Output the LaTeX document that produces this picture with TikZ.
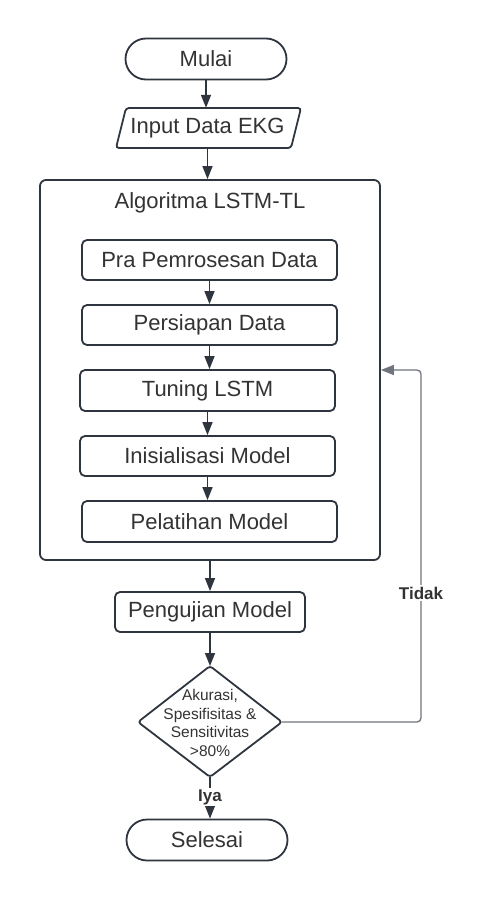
\documentclass[tikz,border=0pt]{standalone}
\usepackage{fontspec}
\setmainfont{Liberation Sans}
\usetikzlibrary{arrows.meta,calc}
\definecolor{ln}{HTML}{2F353E}
\definecolor{tx}{HTML}{333333}
\definecolor{lp}{HTML}{70747C}
\begin{document}
\begin{tikzpicture}[x=1pt,y=-1pt,
  mainfont/.style={font=\fontsize{22}{26}\selectfont},
  stepbox/.style={draw=ln,line width=1.8pt,rounded corners=5pt,minimum width=255pt,minimum height=40pt,inner sep=0pt,text=tx,mainfont},
  pill/.style={draw=ln,line width=1.8pt,rounded corners=20.5pt,minimum width=161pt,minimum height=41pt,inner sep=0pt,text=tx,mainfont},
  plain/.style={inner sep=0pt,text=tx,mainfont},
  shapeline/.style={draw=ln,line width=1.8pt,rounded corners=3pt},
  arr/.style={draw=ln,line width=1.5pt,-{Triangle[length=13pt,width=10pt]}},
  looparr/.style={draw=lp,line width=1.3pt,rounded corners=4pt,-{Triangle[length=13pt,width=10pt]}},
  lab/.style={fill=white,inner sep=1.5pt,text=tx,font=\bfseries\fontsize{17}{20}\selectfont},
  dectext/.style={inner sep=0pt,text=tx,align=center,font=\fontsize{15.5}{18.7}\selectfont}
]
\useasboundingbox (0,0) rectangle (484,900);
\fill[white] (0,0) rectangle (484,900);

% start
\node[pill] (start) at (206,59) {Mulai};

% input parallelogram
\node[plain,minimum width=175pt,minimum height=40pt] (inp) at (207.5,128) {Input Data EKG};
\draw[shapeline] ($(inp.center)+(-81.5,-20)$) -- ($(inp.center)+(93.5,-20)$) -- ($(inp.center)+(83.5,20)$) -- ($(inp.center)+(-91.5,20)$) -- cycle;

% outer algorithm box
\node[draw=ln,line width=1.8pt,rounded corners=6pt,minimum width=340pt,minimum height=380pt,inner sep=0pt] (alg) at (210,370) {};
\node[plain] (algt) at (210,203) {Algoritma LSTM-TL};

% inner steps
\node[stepbox] (pra) at (209.5,260) {Pra Pemrosesan Data};
\node[stepbox] (pers) at (209.5,325) {Persiapan Data};
\node[stepbox,minimum height=41pt] (tun) at (207.5,390.5) {Tuning LSTM};
\node[stepbox] (ini) at (207.5,456) {Inisialisasi Model};
\node[stepbox,minimum height=41pt] (pel) at (209.5,521.5) {Pelatihan Model};

% testing
\node[stepbox,minimum width=190pt] (peng) at (210,612) {Pengujian Model};

% decision diamond
\node[dectext] (dec) at (210,723) {Akurasi,\\Spesifisitas \&\\Sensitivitas\\>80\%};
\coordinate (decN) at (210,666);
\coordinate (decS) at (210,777);
\coordinate (decE) at (282,722);
\coordinate (decW) at (138,722);
\draw[shapeline] (decN) -- (decE) -- (decS) -- (decW) -- cycle;

% end
\node[pill] (sel) at (207,840) {Selesai};

% connectors
\draw[arr] (start.south) -- (start.south |- inp.north);
\draw[arr] (inp.south) -- (inp.south |- alg.north);
\draw[arr] (pra.south) -- (pra.south |- pers.north);
\draw[arr] (pers.south) -- (pers.south |- tun.north);
\draw[arr] (tun.south) -- (tun.south |- ini.north);
\draw[arr] (ini.south) -- (ini.south |- pel.north);
\draw[arr] (alg.south) -- (alg.south |- peng.north);
\draw[arr] (peng.south) -- (decN);
\draw[arr] (decS) -- (decS |- sel.north);
\node[lab] (iya) at (210,797) {Iya};

\coordinate (lpc) at (421,370);
\draw[looparr] (decE) -| (lpc) -- (alg.east |- lpc);
\node[lab] (tidak) at (421,593) {Tidak};
\end{tikzpicture}
\end{document}
